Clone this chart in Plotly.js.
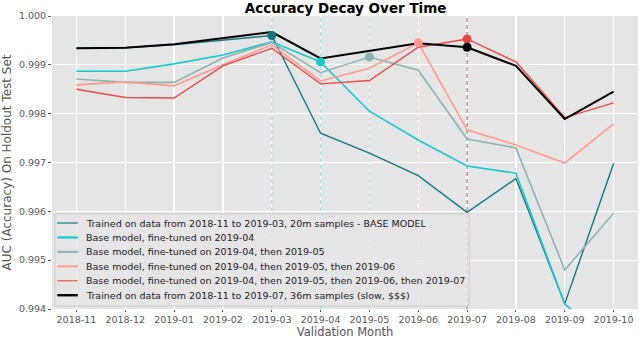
<!DOCTYPE html>
<html>
<head>
<meta charset="utf-8">
<script src="https://cdn.plot.ly/plotly-3.0.1.min.js"></script>
<style>
  body { margin: 0; background: #fff; }
  #chart { width: 640px; height: 339px; }
</style>
</head>
<body>
<div id="chart"></div>
<script>
var months = ['2018-11', '2018-12', '2019-01', '2019-02', '2019-03', '2019-04',
              '2019-05', '2019-06', '2019-07', '2019-08', '2019-09', '2019-10'];

var baseModel   = [0.99934, 0.99935, 0.99941, 0.99951, 0.99960, 0.99760, 0.99719, 0.99673, 0.99598, 0.99667, 0.99411, 0.99698];
var tuned04     = [0.99887, 0.99887, 0.99902, 0.99920, 0.99947, 0.99906, 0.99805, 0.99746, 0.99693, 0.99678, 0.99410, 0.99330];
var tuned0405   = [0.99871, 0.99864, 0.99864, 0.99914, 0.99946, 0.99884, 0.99916, 0.99889, 0.99748, 0.99730, 0.99480, 0.99596];
var tuned040506 = [0.99859, 0.99865, 0.99857, 0.99900, 0.99941, 0.99867, 0.99893, 0.99945, 0.99767, 0.99736, 0.99699, 0.99779];
var tuned0407   = [0.99850, 0.99833, 0.99832, 0.99898, 0.99934, 0.99861, 0.99868, 0.99936, 0.99953, 0.99906, 0.99792, 0.99822];
var full36m     = [0.99934, 0.99935, 0.99942, 0.99955, 0.99967, 0.99913, 0.99928, 0.99944, 0.99936, 0.99898, 0.99789, 0.99845];

var names = [
  'Trained on data from 2018-11 to 2019-03, 20m samples - BASE MODEL',
  'Base model, fine-tuned on 2019-04',
  'Base model, fine-tuned on 2019-04, then 2019-05',
  'Base model, fine-tuned on 2019-04, then 2019-05, then 2019-06',
  'Base model, fine-tuned on 2019-04, then 2019-05, then 2019-06, then 2019-07',
  'Trained on data from 2018-11 to 2019-07, 36m samples (slow, $$$)'
];
var series = [baseModel, tuned04, tuned0405, tuned040506, tuned0407, full36m];
var colors = ['#16787c', '#17c9c9', '#8fb2b0', '#ff9893', '#e8484b', '#000000'];
var widths = [1.4, 1.6, 1.6, 1.6, 1.4, 2];
var legendWidths = [1.2, 2.2, 2, 2, 1.1, 2.4];
var markMonth = ['2019-03', '2019-04', '2019-05', '2019-06', '2019-07', '2019-07'];
var vlineColors = ['rgba(22,120,124,0.35)', 'rgba(23,201,201,0.45)', 'rgba(143,178,176,0.45)',
                   'rgba(255,152,147,0.4)', 'rgba(110,55,55,0.8)'];
var yRange = [0.994, 1.000];

var data = [];
// dashed markers of each fine-tuning month (drawn first so they sit under the curves)
for (var i = 0; i < 5; i++) {
  data.push({
    x: [markMonth[i], markMonth[i]], y: yRange, type: 'scatter', mode: 'lines',
    line: { color: vlineColors[i], width: 1, dash: '4px,3px' }, showlegend: false, hoverinfo: 'skip'
  });
}
series.forEach(function (ys, i) {
  data.push({
    x: months, y: ys, name: names[i], type: 'scatter', mode: 'lines',
    line: { color: colors[i], width: widths[i] }, showlegend: false
  });
});
// highlighted dots
series.forEach(function (ys, i) {
  var k = months.indexOf(markMonth[i]);
  data.push({
    x: [months[k]], y: [ys[k]], type: 'scatter', mode: 'markers',
    marker: { color: colors[i], size: 9 }, showlegend: false, hoverinfo: 'skip'
  });
});

// matplotlib-style legend box, drawn by hand so the rows sit close together
var shapes = [];
var annotations = [];
shapes.push({
  type: 'rect', xref: 'paper', yref: 'paper', x0: 0.005, x1: 0.712, y0: 0.010, y1: 0.325,
  fillcolor: 'rgba(229,229,229,0.8)', line: { color: '#cccccc', width: 1 }, layer: 'above'
});
var rowTop = 0.2935, rowStep = 0.0493;
names.forEach(function (name, i) {
  var yy = rowTop - i * rowStep;
  shapes.push({
    type: 'line', xref: 'paper', yref: 'paper', x0: 0.009, x1: 0.044, y0: yy, y1: yy,
    line: { color: colors[i], width: legendWidths[i] }, layer: 'above'
  });
  annotations.push({
    xref: 'paper', yref: 'paper', x: 0.054, y: yy, xanchor: 'left', yanchor: 'middle',
    text: name, showarrow: false, font: { size: 9.5, color: '#1a1a1a' }
  });
});

var layout = {
  width: 640, height: 339,
  margin: { l: 52, r: 2, t: 16, b: 30 },
  paper_bgcolor: '#ffffff',
  plot_bgcolor: '#e5e5e5',
  font: { family: 'DejaVu Sans', size: 10, color: '#555555' },
  title: {
    text: '<b>Accuracy Decay Over Time</b>',
    font: { family: 'DejaVu Sans', size: 13.5, color: '#000000' },
    x: 0.54, xanchor: 'center', y: 0.99, yanchor: 'top'
  },
  xaxis: {
    type: 'category', categoryorder: 'array', categoryarray: months, range: [-0.5, 11.5],
    showgrid: true, gridcolor: '#ffffff', gridwidth: 1.2,
    ticks: 'outside', ticklen: 2, tickcolor: '#555555',
    tickfont: { size: 9.5, color: '#555555' },
    title: { text: 'Validation Month', font: { size: 11.5, color: '#555555' }, standoff: 3 },
    zeroline: false
  },
  yaxis: {
    range: yRange, dtick: 0.001, tickformat: '.3f',
    showgrid: true, gridcolor: '#ffffff', gridwidth: 1.2,
    ticks: 'outside', ticklen: 3, tickcolor: '#555555',
    tickfont: { size: 9.5, color: '#555555' },
    title: { text: 'AUC (Accuracy) On Holdout Test Set', font: { size: 12, color: '#555555' }, standoff: 5 },
    zeroline: false
  },
  shapes: shapes,
  annotations: annotations,
  showlegend: false
};

Plotly.newPlot('chart', data, layout, { displayModeBar: false, staticPlot: true });
</script>
</body>
</html>
